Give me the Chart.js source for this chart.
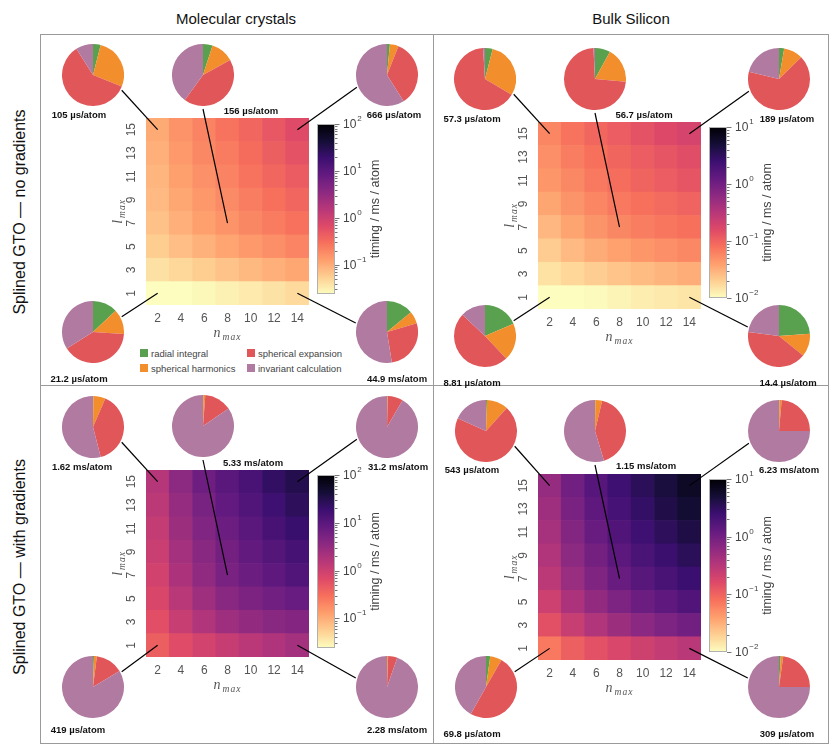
<!DOCTYPE html>
<html>
<head>
<meta charset="utf-8">
<script src="https://cdn.jsdelivr.net/npm/chart.js@4.4.1/dist/chart.umd.min.js"></script>
<style>
  body { margin: 0; background: #fff; width: 830px; height: 745px; position: relative; overflow: hidden;
         font-family: "Liberation Sans", Arial, sans-serif; }
  canvas { position: absolute; }
  .frame { position: absolute; box-sizing: border-box; border: 1.5px solid #9a9a9a; }
</style>
</head>
<body>
<div class="frame" style="left:40px;top:34px;width:789px;height:710px"></div>
<div class="frame" style="left:433px;top:34px;width:1.5px;height:710px;border-width:0 0 0 1.5px"></div>
<div class="frame" style="left:40px;top:385px;width:789px;height:1.5px;border-width:1.5px 0 0 0"></div>

<script>
// axes
const nMax = [2, 4, 6, 8, 10, 12, 14];
const lMax = [1, 3, 5, 7, 9, 11, 13, 15];

const columnTitles = ['Molecular crystals', 'Bulk Silicon'];
const rowTitles = ['Splined GTO — no gradients', 'Splined GTO — with gradients'];

const components = ['radial integral', 'spherical harmonics', 'spherical expansion', 'invariant calculation'];
const componentColors = ['#59a14f', '#f28e2b', '#e15759', '#b07aa1'];

// colour bar limits, ms / atom
const molRange = [0.024, 100];
const siRange = [0.01, 10];

// timings in ms / atom, rows l_max = 1 .. 15, columns n_max = 2 .. 14
const molNoGrad = [
    [0.0212, 0.0234, 0.0263, 0.0302, 0.0339, 0.0389, 0.0449],
    [0.0398, 0.0479, 0.0575, 0.0676, 0.0813, 0.0955, 0.110],
    [0.0562, 0.0741, 0.0933, 0.115, 0.141, 0.170, 0.204],
    [0.0708, 0.0955, 0.126, 0.156, 0.195, 0.240, 0.288],
    [0.0794, 0.110, 0.145, 0.182, 0.234, 0.295, 0.363],
    [0.0871, 0.126, 0.166, 0.209, 0.275, 0.355, 0.447],
    [0.0955, 0.141, 0.191, 0.240, 0.316, 0.417, 0.550],
    [0.105, 0.158, 0.209, 0.275, 0.363, 0.501, 0.666]
];
const siNoGrad = [
    [0.00881, 0.00955, 0.0105, 0.0115, 0.0126, 0.0135, 0.0144],
    [0.0151, 0.0178, 0.0204, 0.0234, 0.0263, 0.0295, 0.0324],
    [0.0209, 0.0269, 0.0331, 0.0389, 0.0447, 0.0501, 0.0562],
    [0.0280, 0.0372, 0.0468, 0.0567, 0.0646, 0.0724, 0.0794],
    [0.0360, 0.0468, 0.0575, 0.0692, 0.0794, 0.0891, 0.100],
    [0.0447, 0.0562, 0.0692, 0.0832, 0.0977, 0.112, 0.129],
    [0.0501, 0.0646, 0.0794, 0.0955, 0.112, 0.129, 0.148],
    [0.0573, 0.0759, 0.0933, 0.112, 0.135, 0.162, 0.189]
];
const molGrad = [
    [0.419, 0.631, 0.871, 1.15, 1.45, 1.82, 2.28],
    [0.603, 1.12, 1.78, 2.51, 3.16, 3.80, 4.17],
    [0.759, 1.51, 2.51, 3.80, 5.01, 6.31, 7.59],
    [0.891, 1.91, 3.31, 5.33, 6.92, 9.12, 12.0],
    [1.05, 2.24, 3.80, 6.03, 8.51, 11.2, 15.1],
    [1.20, 2.63, 4.57, 7.08, 10.0, 14.5, 20.0],
    [1.41, 3.02, 5.37, 8.32, 12.0, 17.8, 25.1],
    [1.62, 3.55, 6.61, 10.0, 14.1, 22.4, 31.2]
];
const siGrad = [
    [0.0698, 0.105, 0.138, 0.174, 0.214, 0.257, 0.309],
    [0.141, 0.240, 0.355, 0.490, 0.646, 0.813, 1.00],
    [0.219, 0.380, 0.575, 0.813, 1.10, 1.38, 1.74],
    [0.288, 0.513, 0.794, 1.15, 1.55, 2.00, 2.51],
    [0.355, 0.631, 0.977, 1.45, 1.95, 2.57, 3.31],
    [0.417, 0.741, 1.17, 1.74, 2.40, 3.24, 4.17],
    [0.479, 0.871, 1.38, 2.04, 2.88, 3.98, 5.25],
    [0.543, 1.00, 1.58, 2.40, 3.31, 4.57, 6.23]
];

// highlighted cells [n_max, l_max]: top-left, middle, top-right, bottom-left, bottom-right
const highlightCells = [[2, 15], [8, 7], [14, 15], [2, 1], [14, 1]];

// share of time per component (%), same order as highlightCells
const molNoGradShares = [[4, 27, 60, 9], [5, 12, 43, 40], [1.5, 4.5, 35, 59], [13, 13, 40, 34], [14, 6.5, 27, 52.5]];
const siNoGradShares = [[4, 29.5, 65.5, 1], [8, 18.4, 72.8, 0.8], [2.7, 10, 66, 21.3], [18.5, 19.5, 49, 13], [23.8, 12, 41.2, 23]];
const molGradShares = [[0.2, 6.3, 39.5, 54], [0.2, 1, 14.3, 84.5], [0.1, 0.3, 8, 91.6], [0.5, 1.5, 14.4, 83.6], [0.1, 0.5, 4.8, 94.6]];
const siGradShares = [[0.5, 11.2, 70, 18.3], [0.2, 3.5, 41.6, 54.7], [0.2, 1.2, 23.6, 75], [2.2, 6.1, 49.9, 41.8], [0.9, 1.3, 22.8, 75]];

const molNoGradTotals = ['105 µs/atom', '156 µs/atom', '666 µs/atom', '21.2 µs/atom', '44.9 ms/atom'];
const siNoGradTotals = ['57.3 µs/atom', '56.7 µs/atom', '189 µs/atom', '8.81 µs/atom', '14.4 µs/atom'];
const molGradTotals = ['1.62 ms/atom', '5.33 ms/atom', '31.2 ms/atom', '419 µs/atom', '2.28 ms/atom'];
const siGradTotals = ['543 µs/atom', '1.15 ms/atom', '6.23 ms/atom', '69.8 µs/atom', '309 µs/atom'];

// layout of the four panels
const panels = [
    { values: molNoGrad, range: molRange, shares: molNoGradShares, totals: molNoGradTotals,
      hm: { x: 146, y: 118, w: 163, h: 187 }, cb: { x: 317, y: 124, w: 18, h: 170 },
      pieXY: [[93, 75], [203, 75], [387, 75], [93, 332], [387, 332]],
      labelXY: [[79, 114], [251, 110], [394, 114], [79, 378], [397, 378]] },
    { values: siNoGrad, range: siRange, shares: siNoGradShares, totals: siNoGradTotals,
      hm: { x: 538, y: 122, w: 163, h: 187 }, cb: { x: 709, y: 127, w: 18, h: 171 },
      pieXY: [[485, 79], [595, 79], [779, 79], [485, 336], [779, 336]],
      labelXY: [[472, 118], [644, 114], [787, 118], [472, 382], [788, 382]] },
    { values: molGrad, range: molRange, shares: molGradShares, totals: molGradTotals,
      hm: { x: 146, y: 470, w: 163, h: 187 }, cb: { x: 317, y: 475, w: 18, h: 173 },
      pieXY: [[93, 427], [203, 426], [387, 427], [93, 687], [387, 687]],
      labelXY: [[82, 466], [253, 462], [398, 466], [78, 729], [397, 729]] },
    { values: siGrad, range: siRange, shares: siGradShares, totals: siGradTotals,
      hm: { x: 538, y: 474, w: 163, h: 186 }, cb: { x: 709, y: 479, w: 18, h: 173 },
      pieXY: [[486, 431], [595, 431], [779, 431], [486, 687], [779, 687]],
      labelXY: [[472, 469], [646, 465], [789, 469], [472, 733], [787, 733]] }
];
const pieRadius = 31;
const lineAngles = [28, 90, 158, -28, -164];

Chart.defaults.font.family = '"Liberation Sans", Arial, sans-serif';
Chart.defaults.animation = false;
Chart.defaults.responsive = false;
Chart.defaults.events = [];
Chart.defaults.plugins.legend.display = false;
Chart.defaults.plugins.tooltip.enabled = false;

// magma colour map, dark -> light
const MAGMA = [[0, 0, 4], [20, 14, 54], [59, 15, 112], [100, 26, 128], [140, 41, 129], [183, 55, 121],
    [222, 73, 104], [247, 112, 92], [254, 159, 109], [254, 207, 146], [252, 253, 191]];

function magma(t) {
    t = Math.min(1, Math.max(0, t)) * (MAGMA.length - 1);
    const i = Math.min(MAGMA.length - 2, Math.floor(t));
    const f = t - i;
    const c = MAGMA[i].map((v, k) => Math.round(v + (MAGMA[i + 1][k] - v) * f));
    return `rgb(${c[0]},${c[1]},${c[2]})`;
}

function timingColor(v, range) {
    const lo = Math.log10(range[0]), hi = Math.log10(range[1]);
    return magma(1 - (Math.log10(v) - lo) / (hi - lo));
}

function makeCanvas(x, y, w, h) {
    const c = document.createElement('canvas');
    c.width = Math.round(w);
    c.height = Math.round(h);
    c.style.left = Math.round(x) + 'px';
    c.style.top = Math.round(y) + 'px';
    document.body.appendChild(c);
    return c;
}

function addText(text, x, y, style) {
    const d = document.createElement('div');
    d.textContent = text;
    d.style.cssText = `position:absolute;left:${x}px;top:${y}px;white-space:nowrap;transform:translate(-50%,-50%);${style}`;
    document.body.appendChild(d);
    return d;
}

function subLabel(ctx, x, y, main, sub, rotate) {
    ctx.save();
    ctx.translate(x, y);
    if (rotate) ctx.rotate(-Math.PI / 2);
    ctx.fillStyle = '#555';
    ctx.textBaseline = 'alphabetic';
    ctx.font = 'italic 14px "Liberation Serif", serif';
    const w1 = ctx.measureText(main).width;
    ctx.font = 'italic 9.5px "Liberation Serif", serif';
    ctx.letterSpacing = '1px';
    const w2 = ctx.measureText(sub).width;
    const x0 = -(w1 + 2 + w2) / 2;
    ctx.fillText(sub, x0 + w1 + 2, 7);
    ctx.letterSpacing = '0px';
    ctx.font = 'italic 14px "Liberation Serif", serif';
    ctx.fillText(main, x0, 4);
    ctx.restore();
}

// axis titles and the rotated l_max tick labels, placed from the chart's own scales
const axisTitles = {
    id: 'axisTitles',
    afterDraw(chart) {
        const { ctx, chartArea: a, scales: { y } } = chart;
        ctx.save();
        ctx.fillStyle = '#555';
        ctx.font = '12px "Liberation Sans", Arial, sans-serif';
        ctx.textAlign = 'center';
        ctx.textBaseline = 'middle';
        y.ticks.forEach((t, i) => {
            ctx.save();
            ctx.translate(a.left - 14, y.getPixelForTick(i));
            ctx.rotate(-Math.PI / 2);
            ctx.fillText(String(lMax[i]), 0, 0);
            ctx.restore();
        });
        ctx.restore();
        subLabel(ctx, (a.left + a.right) / 2, a.bottom + 28, 'n', 'max', false);
        subLabel(ctx, a.left - 28, (a.top + a.bottom) / 2, 'l', 'max', true);
    }
};

function drawHeatmap(p) {
    const padL = 40, padB = 42, padT = 4, padR = 4;
    const cv = makeCanvas(p.hm.x - padL, p.hm.y - padT, p.hm.w + padL + padR, p.hm.h + padT + padB);
    const chart = new Chart(cv, {
        type: 'bar',
        data: {
            labels: nMax.map(String),
            datasets: lMax.map((l, i) => ({
                label: 'l_max = ' + l,
                data: nMax.map(() => [i, i + 1]),
                backgroundColor: p.values[i].map(v => timingColor(v, p.range)),
                borderWidth: 0,
                barPercentage: 1,
                categoryPercentage: 1,
                grouped: false
            }))
        },
        options: {
            layout: { padding: { top: padT, right: padR, left: 0, bottom: 0 } },
            scales: {
                x: {
                    grid: { display: false, drawTicks: false },
                    border: { display: false },
                    ticks: { color: '#555', font: { size: 12 }, padding: 6, maxRotation: 0 },
                    afterFit: s => { s.height = padB; s.paddingLeft = 0; s.paddingRight = 0; }
                },
                y: {
                    min: 0,
                    max: lMax.length,
                    grid: { display: false, drawTicks: false },
                    border: { display: false },
                    afterBuildTicks: s => { s.ticks = lMax.map((l, i) => ({ value: i + 0.5 })); },
                    ticks: { display: false },
                    afterFit: s => { s.width = padL; s.paddingTop = 0; s.paddingBottom = 0; }
                }
            }
        },
        plugins: [axisTitles]
    });
    chart.offsetX = Math.round(p.hm.x - padL);
    chart.offsetY = Math.round(p.hm.y - padT);
    return chart;
}

function drawColorbar(p) {
    const padL = 2, padT = 10, padR = 56, padB = 10;
    const cv = makeCanvas(p.cb.x - padL, p.cb.y - padT, p.cb.w + padL + padR, p.cb.h + padT + padB);
    const [vmin, vmax] = p.range;
    return new Chart(cv, {
        type: 'bar',
        data: {
            labels: [''],
            datasets: [{
                data: [[vmin, vmax]],
                backgroundColor: ctx => {
                    const a = ctx.chart.chartArea;
                    if (!a) return '#fff';
                    const g = ctx.chart.ctx.createLinearGradient(0, a.bottom, 0, a.top);
                    for (let k = 0; k <= 20; k++) g.addColorStop(k / 20, magma(1 - k / 20));
                    return g;
                },
                borderWidth: 0,
                barPercentage: 1,
                categoryPercentage: 1
            }]
        },
        options: {
            layout: { padding: { left: padL, top: padT, right: padR, bottom: padB } },
            scales: {
                x: { display: false },
                y: { type: 'logarithmic', display: false, min: vmin, max: vmax }
            }
        },
        plugins: [{
            id: 'colorbarAxis',
            afterDraw(chart) {
                const { ctx, chartArea: a } = chart;
                const y = chart.scales.y;
                ctx.save();
                ctx.strokeStyle = '#b0b0b0';
                ctx.lineWidth = 1;
                ctx.strokeRect(a.left + 0.5, a.top + 0.5, a.right - a.left - 1, a.bottom - a.top - 1);
                ctx.strokeStyle = '#777';
                ctx.fillStyle = '#444';
                ctx.textBaseline = 'middle';
                for (let e = Math.floor(Math.log10(vmin)); e <= Math.ceil(Math.log10(vmax)); e++) {
                    for (let m = 1; m <= 9; m++) {
                        const v = m * Math.pow(10, e);
                        if (v < vmin * 0.999 || v > vmax * 1.001) continue;
                        const py = Math.round(y.getPixelForValue(v)) + 0.5;
                        ctx.beginPath();
                        ctx.moveTo(a.right, py);
                        ctx.lineTo(a.right + (m === 1 ? 4.5 : 2.5), py);
                        ctx.stroke();
                        if (m === 1) {
                            ctx.font = '12px "Liberation Sans", Arial, sans-serif';
                            ctx.fillText('10', a.right + 8, py);
                            const w = ctx.measureText('10').width;
                            ctx.font = '8px "Liberation Sans", Arial, sans-serif';
                            ctx.fillText(e < 0 ? '\u2212' + (-e) : String(e), a.right + 9 + w, py - 6);
                        }
                    }
                }
                ctx.translate(a.right + 41, (a.top + a.bottom) / 2);
                ctx.rotate(-Math.PI / 2);
                ctx.textAlign = 'center';
                ctx.font = '12.5px "Liberation Sans", Arial, sans-serif';
                ctx.fillText('timing / ms / atom', 0, 0);
                ctx.restore();
            }
        }]
    });
}

function drawPie(cx, cy, shares) {
    const cv = makeCanvas(cx - pieRadius, cy - pieRadius, 2 * pieRadius, 2 * pieRadius);
    return new Chart(cv, {
        type: 'pie',
        data: {
            labels: components,
            datasets: [{ data: shares, backgroundColor: componentColors, borderWidth: 0 }]
        },
        options: { layout: { padding: 0 } }
    });
}

// titles
addText(columnTitles[0], 236, 18, 'font-size:15px;color:#111');
addText(columnTitles[1], 631, 18, 'font-size:15px;color:#111');
addText(rowTitles[0], 20, 212, 'font-size:16px;color:#111;transform:translate(-50%,-50%) rotate(-90deg)');
addText(rowTitles[1], 20, 567, 'font-size:16px;color:#111;transform:translate(-50%,-50%) rotate(-90deg)');

// legend (top-left panel)
const legendXY = [[140, 353], [140, 368], [247, 353], [247, 368]];
components.forEach((name, k) => {
    const [x, y] = legendXY[k];
    const box = document.createElement('div');
    box.style.cssText = `position:absolute;left:${x}px;top:${y - 4}px;width:8px;height:8px;background:${componentColors[k]}`;
    document.body.appendChild(box);
    const t = addText(name, x + 11, y, 'font-size:9.5px;color:#444');
    t.style.transform = 'translate(0,-50%)';
});

// heatmaps, colour bars, pies
const lineCanvas = makeCanvas(0, 0, 830, 745);
lineCanvas.style.zIndex = 5;
const lctx = lineCanvas.getContext('2d');
lctx.strokeStyle = '#000';
lctx.lineWidth = 1.2;

panels.forEach(p => {
    const hm = drawHeatmap(p);
    drawColorbar(p);
    highlightCells.forEach(([n, l], k) => {
        const [cx, cy] = p.pieXY[k];
        drawPie(cx, cy, p.shares[k]);
        addText(p.totals[k], p.labelXY[k][0], p.labelXY[k][1], 'font-size:9.5px;font-weight:bold;color:#111');

        const tx = hm.offsetX + hm.scales.x.getPixelForValue(nMax.indexOf(n));
        const ty = hm.offsetY + hm.scales.y.getPixelForValue(lMax.indexOf(l) + 0.5);
        const ang = lineAngles[k] * Math.PI / 180;
        const r = pieRadius + (k === 1 ? 3 : 1.5);
        lctx.beginPath();
        lctx.moveTo(cx + r * Math.cos(ang), cy + r * Math.sin(ang));
        lctx.lineTo(tx, ty);
        lctx.stroke();
    });
});
</script>
</body>
</html>
